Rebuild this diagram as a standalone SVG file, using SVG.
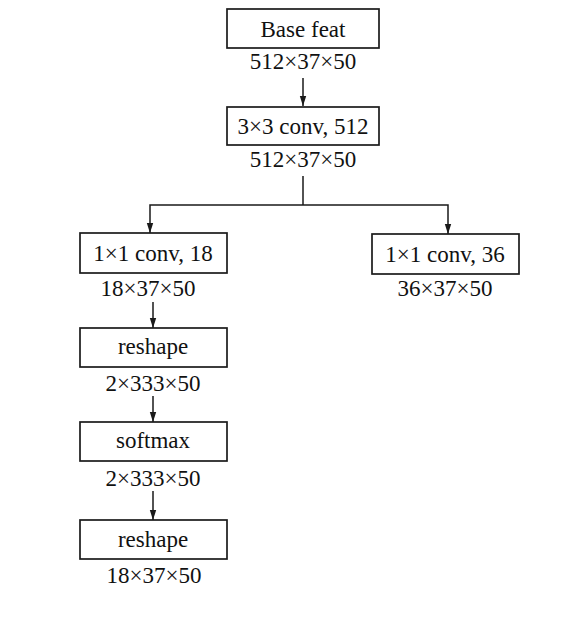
<svg xmlns="http://www.w3.org/2000/svg" width="583" height="640" viewBox="0 0 583 640">
<style>
  .box { fill: #ffffff; stroke: #1a1a1a; stroke-width: 1.7; }
  .t { font-family: "Liberation Serif", "Times New Roman", serif; font-size: 23px; fill: #111111; text-anchor: middle; }
  .c { fill: none; stroke: #1a1a1a; stroke-width: 1.5; }
</style>
<defs>
  <marker id="arr" markerWidth="10" markerHeight="12" refX="10" refY="5" orient="auto" markerUnits="userSpaceOnUse">
    <path d="M0,1.8 L10,5 L0,8.2 Z" fill="#1a1a1a"/>
  </marker>
</defs>
<rect width="583" height="640" fill="#ffffff"/>
<g id="connectors">
  <line class="c" x1="303" y1="78" x2="303" y2="106" marker-end="url(#arr)"/>
  <polyline class="c" points="303,176 303,205"/>
  <polyline class="c" points="303,205 448,205 448,234" marker-end="url(#arr)"/>
  <polyline class="c" points="303,205 150,205 150,233" marker-end="url(#arr)"/>
  <line class="c" x1="153" y1="302" x2="153" y2="328" marker-end="url(#arr)"/>
  <line class="c" x1="153" y1="396" x2="153" y2="422" marker-end="url(#arr)"/>
  <line class="c" x1="153" y1="491" x2="153" y2="520" marker-end="url(#arr)"/>
</g>
<g id="base-feat">
  <rect class="box" x="227" y="9" width="152" height="39"/>
  <text class="t" x="303" y="37">Base feat</text>
  <text class="t" x="303" y="69">512×37×50</text>
</g>
<g id="conv3x3">
  <rect class="box" x="227" y="107" width="152" height="38"/>
  <text class="t" x="303" y="134">3×3 conv, 512</text>
  <text class="t" x="303" y="167">512×37×50</text>
</g>
<g id="conv1x1-18">
  <rect class="box" x="80" y="233" width="147" height="40"/>
  <text class="t" x="153" y="261">1×1 conv, 18</text>
  <text class="t" x="148" y="296">18×37×50</text>
</g>
<g id="conv1x1-36">
  <rect class="box" x="372" y="234" width="147" height="40"/>
  <text class="t" x="445" y="262">1×1 conv, 36</text>
  <text class="t" x="445" y="296">36×37×50</text>
</g>
<g id="reshape1">
  <rect class="box" x="80" y="328" width="147" height="39"/>
  <text class="t" x="153" y="354">reshape</text>
  <text class="t" x="153" y="391">2×333×50</text>
</g>
<g id="softmax">
  <rect class="box" x="80" y="422" width="147" height="39"/>
  <text class="t" x="153" y="448">softmax</text>
  <text class="t" x="153" y="486">2×333×50</text>
</g>
<g id="reshape2">
  <rect class="box" x="80" y="520" width="147" height="39"/>
  <text class="t" x="153" y="547">reshape</text>
  <text class="t" x="154" y="583">18×37×50</text>
</g>
</svg>
